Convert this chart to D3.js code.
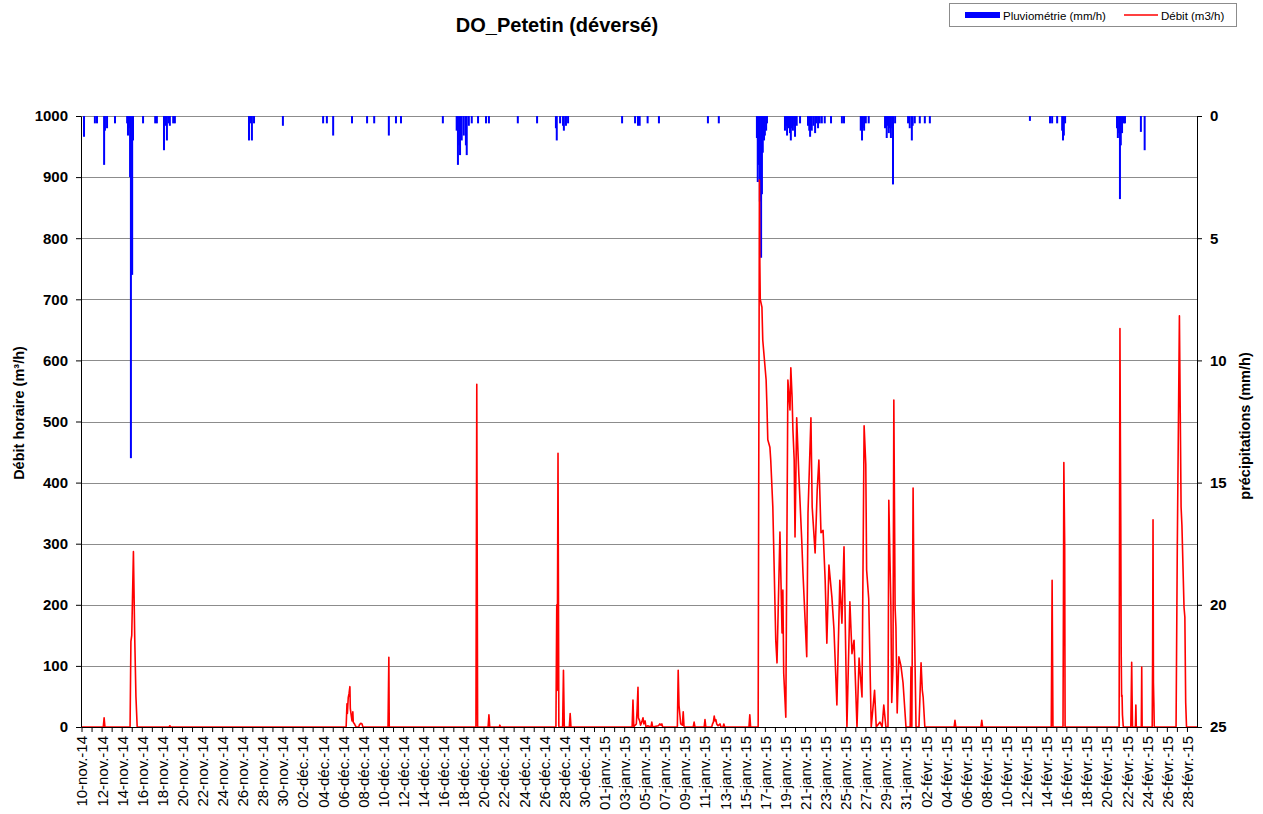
<!DOCTYPE html>
<html lang="fr">
<head>
<meta charset="UTF-8">
<title>DO_Petetin</title>
<script src="https://cdn.jsdelivr.net/npm/d3@7"></script>
<style>
  body { margin: 0; background: #fff; }
  text { font-family: "Liberation Sans", Arial, sans-serif; }
</style>
</head>
<body>
<script>
// series start: 10-nov.-14 00:00, values indexed by hour
var startDate = new Date(2014, 10, 10);
var endDate = new Date(2015, 2, 1);

// débit (m3/h) : [hour, value]
var debitPoints = [
  [0,0],[52,0],[54,15],[56,0],[116,0],[118,140],[120,150],[124,287],[127,150],[130,50],[133,0],[209,0],[211,2],[213,0],
  [632,0],[634,38],[635,22],[637,48],[639,55],[641,66],[642,30],[644,20],[646,10],[648,25],[649,8],[652,5],[654,2],[656,0],
  [662,0],[664,4],[667,6],[670,5],[672,0],
  [732,0],[734,114],[735,0],
  [942,0],[944,561],[946,0],[971,0],[973,20],[975,0],[998,0],[999,3],[1001,0],
  [1133,0],[1135,200],[1136,60],[1138,448],[1140,0],[1149,0],[1151,93],[1153,0],[1165,0],[1167,22],[1169,0],
  [1315,0],[1317,44],[1319,0],[1321,2],[1325,5],[1327,30],[1329,65],[1330,15],[1333,10],[1335,3],[1338,8],[1341,15],[1343,5],
  [1346,10],[1348,0],[1352,2],[1360,0],[1362,8],[1364,0],[1378,2],[1381,5],[1384,3],[1386,5],[1388,0],
  [1423,0],[1425,93],[1427,35],[1429,20],[1431,5],[1435,3],[1437,25],[1439,0],[1461,0],[1463,8],[1465,0],[1487,0],[1489,12],[1491,0],
  [1505,0],[1507,5],[1509,8],[1511,18],[1513,10],[1515,12],[1517,5],[1520,2],[1525,5],[1527,0],[1532,0],[1534,5],[1536,0],
  [1594,0],[1596,20],[1598,0],
  [1616,0],[1619,895],[1620,760],[1621,700],[1625,687],[1627,633],[1635,568],[1637,524],[1639,470],[1644,458],[1646,437],
  [1651,360],[1658,142],[1661,105],[1668,319],[1673,154],[1675,224],[1677,88],[1682,16],[1687,568],[1692,519],[1694,588],
  [1697,540],[1699,486],[1702,437],[1704,311],[1708,506],[1713,415],[1720,306],[1723,252],[1732,115],[1735,350],[1742,506],
  [1745,360],[1752,285],[1757,388],[1761,437],[1766,318],[1771,322],[1776,240],[1780,137],[1785,265],[1792,213],[1797,160],
  [1804,36],[1811,240],[1816,170],[1821,295],[1828,0],[1835,205],[1840,120],[1845,142],[1852,0],[1857,113],[1864,49],
  [1869,493],[1873,430],[1875,257],[1880,210],[1886,0],[1894,60],[1898,0],[1907,8],[1912,0],[1916,36],[1921,0],[1926,0],
  [1928,371],[1933,196],[1935,40],[1938,100],[1940,535],[1943,196],[1945,164],[1948,23],[1952,115],[1957,100],[1962,72],
  [1969,0],[1979,0],[1981,98],[1983,0],[1986,391],[1988,220],[1993,0],[2000,0],[2005,105],[2008,60],[2010,49],[2014,0],
  [2084,0],[2086,11],[2088,0],[2148,0],[2150,11],[2152,0],
  [2316,0],[2318,240],[2320,0],[2344,0],[2345,200],[2346,433],[2348,300],[2349,0],
  [2478,0],[2480,652],[2481,475],[2482,330],[2483,120],[2484,50],[2485,52],[2486,20],[2488,0],
  [2506,0],[2508,106],[2509,50],[2510,0],[2517,0],[2518,36],[2519,0],[2531,0],[2532,98],[2533,0],
  [2557,0],[2558,115],[2559,339],[2560,72],[2561,40],[2562,0],
  [2614,0],[2617,300],[2622,673],[2624,514],[2626,360],[2628,330],[2633,196],[2635,180],[2637,40],[2639,0],[2664,0]
];

// pluviométrie (mm/h) : [hour, value]
var pluiePoints = [
  [6,0.85],[32,0.3],[37,0.3],[54,2.0],[56,0.6],[61,0.5],[80,0.3],[109,0.3],[111,0.8],[113,0.5],[116,2.5],[118,14],[121,6.5],
  [123,1.0],[147,0.3],[176,0.3],[180,0.3],[197,1.4],[200,0.4],[204,1.0],[208,0.3],[211,0.4],[219,0.3],[223,0.3],
  [400,1.0],[403,0.3],[407,1.0],[412,0.3],[481,0.4],[577,0.3],[586,0.3],[601,0.8],[646,0.3],[682,0.3],[699,0.3],[734,0.8],
  [751,0.3],[763,0.3],[863,0.3],[896,0.6],[899,2.0],[902,1.2],[904,1.6],[908,1.0],[913,0.8],[918,1.2],[920,1.6],[925,0.4],
  [932,0.3],[947,0.3],[966,0.3],[973,0.3],[1042,0.3],[1088,0.3],[1133,0.5],[1135,1.0],[1143,0.3],[1150,0.4],[1152,0.6],
  [1157,0.4],[1162,0.3],[1291,0.3],[1322,0.3],[1329,0.4],[1333,0.4],[1352,0.3],[1379,0.3],[1496,0.3],[1522,0.3],
  [1613,0.9],[1615,2.7],[1618,2.0],[1620,3.5],[1623,5.8],[1625,3.2],[1627,1.5],[1630,1.0],[1632,0.8],[1635,0.6],[1637,0.3],
  [1680,0.6],[1683,0.4],[1685,0.8],[1689,0.5],[1692,0.7],[1694,1.0],[1697,0.5],[1699,0.6],[1702,0.4],[1704,0.85],[1706,0.3],
  [1708,0.4],[1716,0.3],[1735,0.4],[1738,0.6],[1740,0.85],[1742,0.5],[1744,0.6],[1748,0.4],[1752,0.7],[1755,0.3],[1759,0.5],
  [1763,0.3],[1768,0.3],[1775,0.3],[1790,0.3],[1816,0.3],[1821,0.3],
  [1861,0.6],[1864,1.0],[1866,0.5],[1869,0.6],[1873,0.3],[1880,0.3],
  [1919,0.5],[1923,0.9],[1926,0.4],[1928,0.7],[1931,0.5],[1933,0.9],[1936,0.5],[1938,2.8],[1943,0.3],
  [1974,0.3],[1978,0.5],[1983,1.0],[1985,0.4],[1990,0.3],[2002,0.3],[2014,0.3],[2026,0.3],
  [2265,0.2],[2313,0.3],[2318,0.3],[2330,0.3],[2342,0.6],[2344,1.0],[2346,0.8],[2349,0.3],
  [2473,0.5],[2475,0.9],[2478,0.7],[2480,3.4],[2482,1.2],[2485,0.7],[2489,0.3],[2492,0.3],
  [2530,0.65],[2539,1.4]
];

var leftTicks = [0,100,200,300,400,500,600,700,800,900,1000];
var rightTicks = [0,5,10,15,20,25];

var width = 1263, height = 814;
var margin = {top: 116, right: 66, bottom: 87, left: 81};

var svg = d3.select('body').append('svg')
  .attr('width', width)
  .attr('height', height);

var hourToDate = function(h){ return new Date(startDate.getTime() + h*3600000); };

var x = d3.scaleTime().domain([startDate, endDate]).range([margin.left + 0.5, width - margin.right]);
var y = d3.scaleLinear().domain([0, 1000]).range([height - margin.bottom, margin.top]);
var y2 = d3.scaleLinear().domain([0, 25]).range([margin.top, height - margin.bottom]);

// grid
svg.append('g').selectAll('line')
  .data(leftTicks.filter(function(d){ return d > 0; }))
  .enter().append('line')
  .attr('x1', x.range()[0]).attr('x2', x.range()[1])
  .attr('y1', function(d){ return Math.round(y(d)) + 0.5; })
  .attr('y2', function(d){ return Math.round(y(d)) + 0.5; })
  .attr('stroke', '#8c8c8c').attr('stroke-width', 1);

// rain bars hanging from the top
svg.append('g').selectAll('rect')
  .data(pluiePoints)
  .enter().append('rect')
  .attr('x', function(d){ return x(hourToDate(d[0])) - 1; })
  .attr('width', 2)
  .attr('y', y2(0))
  .attr('height', function(d){ return y2(d[1]) - y2(0); })
  .attr('fill', '#0000ff');

// débit line
var line = d3.line()
  .x(function(d){ return x(hourToDate(d[0])); })
  .y(function(d){ return y(d[1]); });

svg.append('path')
  .datum(debitPoints)
  .attr('d', line)
  .attr('fill', 'none')
  .attr('stroke', '#ff0000')
  .attr('stroke-width', 1.6)
  .attr('stroke-linejoin', 'round');

// axes
var fr = d3.timeFormatLocale({
  dateTime: "%A %e %B %Y à %X", date: "%d/%m/%Y", time: "%H:%M:%S", periods: ["AM", "PM"],
  days: ["dimanche","lundi","mardi","mercredi","jeudi","vendredi","samedi"],
  shortDays: ["dim.","lun.","mar.","mer.","jeu.","ven.","sam."],
  months: ["janvier","février","mars","avril","mai","juin","juillet","août","septembre","octobre","novembre","décembre"],
  shortMonths: ["janv.","févr.","mars","avr.","mai","juin","juil.","août","sept.","oct.","nov.","déc."]
});
var fmt = fr.format('%d-%b-%y');
var days = d3.timeDay.range(startDate, endDate);

var xAxis = svg.append('g')
  .attr('transform', 'translate(0,' + (height - margin.bottom) + ')')
  .call(d3.axisBottom(x).tickValues(days).tickSize(5).tickSizeOuter(0)
    .tickFormat(function(d, i){ return i % 2 == 0 ? fmt(d) : ''; }));
xAxis.selectAll('text')
  .attr('transform', 'rotate(-90)')
  .attr('text-anchor', 'end')
  .attr('x', -9).attr('y', 0).attr('dy', '0.36em')
  .style('font-size', '15px');

var yAxis = svg.append('g')
  .attr('transform', 'translate(' + margin.left + ',0)')
  .call(d3.axisLeft(y).tickValues(leftTicks).tickSize(5).tickPadding(8).tickFormat(d3.format('d')));
yAxis.selectAll('text').style('font-size', '15px').style('font-weight', 'bold');

var y2Axis = svg.append('g')
  .attr('transform', 'translate(' + (width - margin.right) + ',0)')
  .call(d3.axisRight(y2).tickValues(rightTicks).tickSize(5).tickPadding(8));
y2Axis.selectAll('text').style('font-size', '15px').style('font-weight', 'bold');

svg.selectAll('.domain').attr('stroke', '#000');
svg.selectAll('.tick line').attr('stroke', '#000');

// titles
svg.append('text')
  .attr('x', 557).attr('y', 32)
  .attr('text-anchor', 'middle')
  .style('font-size', '20px').style('font-weight', 'bold')
  .text('DO_Petetin (déversé)');

svg.append('text')
  .attr('transform', 'translate(24,413) rotate(-90)')
  .attr('text-anchor', 'middle')
  .style('font-size', '14.5px').style('font-weight', 'bold')
  .text('Débit horaire (m³/h)');

svg.append('text')
  .attr('transform', 'translate(1250,426) rotate(-90)')
  .attr('text-anchor', 'middle')
  .style('font-size', '14.5px').style('font-weight', 'bold')
  .text('précipitations (mm/h)');

// legend
var lg = svg.append('g');
lg.append('rect')
  .attr('x', 949.5).attr('y', 3.5).attr('width', 287).attr('height', 23)
  .attr('fill', '#fff').attr('stroke', '#8c8c8c');
lg.append('rect')
  .attr('x', 965).attr('y', 12).attr('width', 35).attr('height', 6)
  .attr('fill', '#0000ff');
lg.append('text')
  .attr('x', 1003).attr('y', 19.5)
  .style('font-size', '11.5px')
  .text('Pluviométrie (mm/h)');
lg.append('line')
  .attr('x1', 1124).attr('x2', 1158).attr('y1', 15).attr('y2', 15)
  .attr('stroke', '#ff0000').attr('stroke-width', 1.5);
lg.append('text')
  .attr('x', 1161).attr('y', 19.5)
  .style('font-size', '11.5px')
  .text('Débit (m3/h)');
</script>
</body>
</html>
